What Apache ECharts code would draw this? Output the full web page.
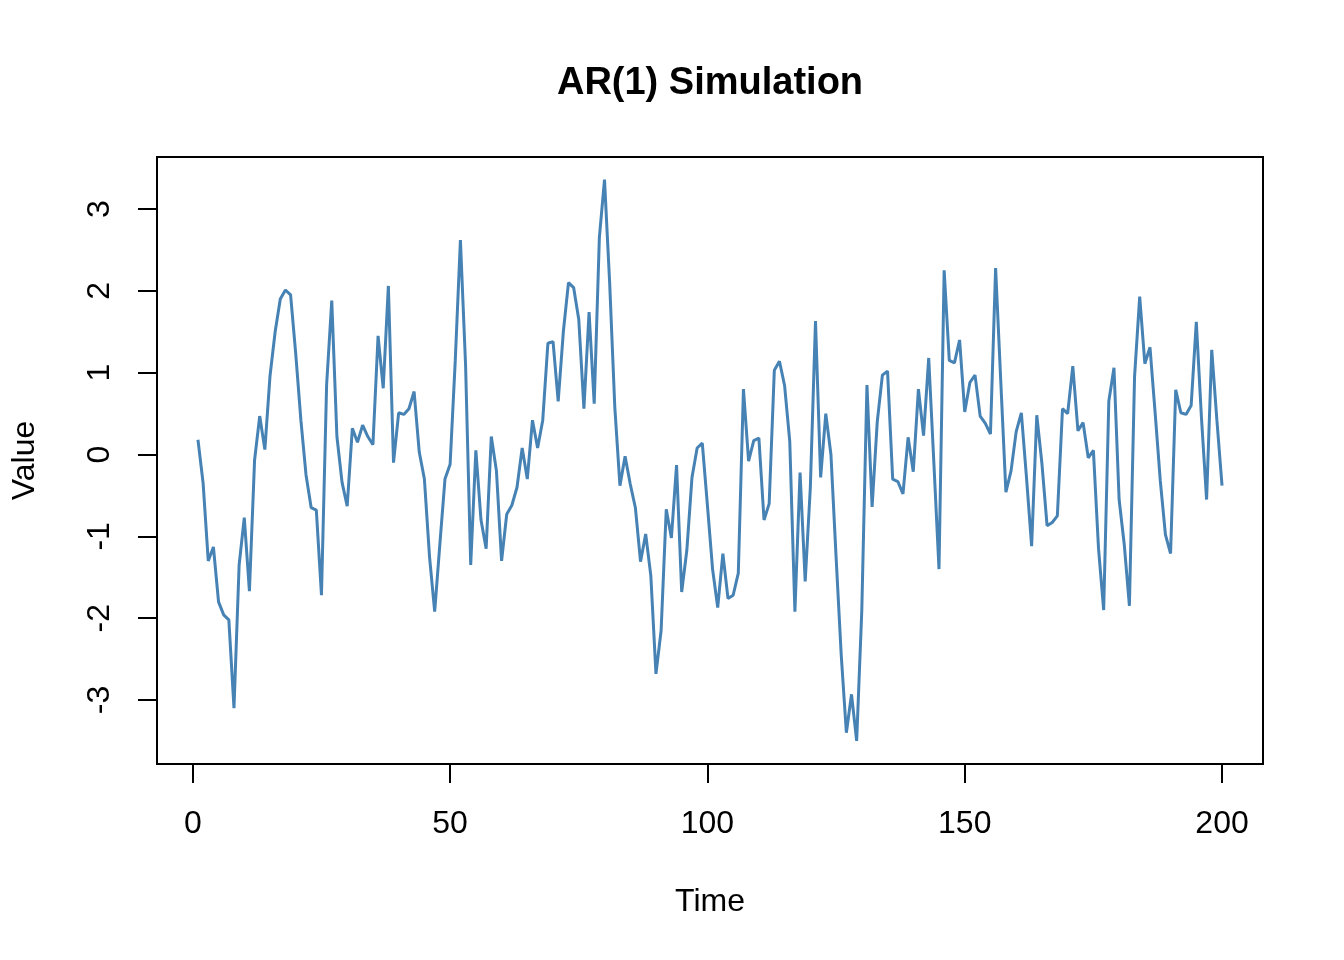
<!DOCTYPE html>
<html>
<head>
<meta charset="utf-8">
<script src="https://cdn.jsdelivr.net/npm/echarts@6/dist/echarts.min.js"></script>
<style>
  html, body { margin: 0; padding: 0; background: #ffffff; }
  #chart { width: 1344px; height: 960px; }
</style>
</head>
<body>
<div id="chart"></div>
<script>
// ---- data ----
const values = [
  0.18, -0.35, -1.30, -1.13, -1.80, -1.96, -2.02, -3.10, -1.35, -0.77,
  -1.67, -0.07, 0.47, 0.06, 0.96, 1.50, 1.90, 2.01, 1.95, 1.23,
  0.42, -0.25, -0.65, -0.68, -1.72, 0.85, 1.88, 0.22, -0.34, -0.63,
  0.32, 0.15, 0.36, 0.22, 0.12, 1.45, 0.81, 2.06, -0.10, 0.51,
  0.49, 0.56, 0.77, 0.03, -0.30, -1.25, -1.92, -1.10, -0.30, -0.12,
  1.15, 2.62, 1.10, -1.35, 0.05, -0.80, -1.15, 0.22, -0.20, -1.30,
  -0.73, -0.62, -0.40, 0.08, -0.30, 0.42, 0.08, 0.42, 1.36, 1.38,
  0.65, 1.50, 2.10, 2.04, 1.65, 0.56, 1.74, 0.62, 2.65, 3.36,
  2.10, 0.58, -0.38, -0.02, -0.36, -0.65, -1.31, -0.97, -1.48, -2.68,
  -2.15, -0.67, -1.02, -0.13, -1.68, -1.17, -0.28, 0.08, 0.14, -0.62,
  -1.40, -1.87, -1.21, -1.76, -1.72, -1.45, 0.80, -0.08, 0.17, 0.20,
  -0.80, -0.60, 1.03, 1.14, 0.84, 0.16, -1.92, -0.22, -1.55, -0.40,
  1.63, -0.28, 0.50, 0.00, -1.25, -2.45, -3.40, -2.93, -3.50, -1.90,
  0.85, -0.64, 0.40, 0.97, 1.02, -0.30, -0.33, -0.48, 0.21, -0.21,
  0.80, 0.23, 1.18, -0.10, -1.40, 2.25, 1.15, 1.12, 1.40, 0.52,
  0.88, 0.97, 0.47, 0.38, 0.25, 2.28, 0.90, -0.46, -0.20, 0.28,
  0.51, -0.28, -1.12, 0.48, -0.11, -0.87, -0.83, -0.75, 0.56, 0.50,
  1.08, 0.29, 0.39, -0.04, 0.05, -1.15, -1.90, 0.65, 1.06, -0.55,
  -1.10, -1.85, 0.95, 1.93, 1.11, 1.31, 0.51, -0.32, -0.98, -1.21,
  0.79, 0.51, 0.49, 0.60, 1.62, 0.45, -0.55, 1.28, 0.42, -0.38
];
const time = values.map((_, i) => i + 1);
const xTicks = [0, 50, 100, 150, 200];
const yTicks = [-3, -2, -1, 0, 1, 2, 3];

const FONT = 'Liberation Sans, Arial, sans-serif';
const chart = echarts.init(document.getElementById('chart'), null, { renderer: 'canvas' });

// R-style extended ranges (4% padding of data range)
const xMin = 1 - 0.04 * 199, xMax = 200 + 0.04 * 199;
const yDataMin = -3.507, yDataMax = 3.361;
const yr = yDataMax - yDataMin;
const yMin = yDataMin - 0.04 * yr, yMax = yDataMax + 0.04 * yr;

chart.setOption({
  animation: false,
  backgroundColor: '#ffffff',
  title: {
    text: 'AR(1) Simulation',
    left: 705,
    top: 60,
    textAlign: 'center',
    textStyle: { fontFamily: FONT, fontSize: 38, fontWeight: 'bold', color: '#000' }
  },
  grid: {
    left: 157, right: 81, top: 157, bottom: 196,
    show: true, borderColor: '#000', borderWidth: 2, backgroundColor: 'transparent'
  },
  xAxis: {
    type: 'value',
    min: xMin, max: xMax,
    name: 'Time',
    nameLocation: 'middle',
    nameGap: 122,
    nameTextStyle: { fontFamily: FONT, fontSize: 32, color: '#000' },
    axisLine: { show: false, onZero: false },
    splitLine: { show: false },
    axisTick: {
      show: true, inside: false, length: 19,
      customValues: xTicks,
      lineStyle: { color: '#000', width: 2 }
    },
    axisLabel: {
      show: true, margin: 44,
      customValues: xTicks,
      fontFamily: FONT, fontSize: 32, color: '#000'
    }
  },
  yAxis: {
    type: 'value',
    min: yMin, max: yMax,
    name: 'Value',
    nameLocation: 'middle',
    nameGap: 116,
    nameRotate: 90,
    nameTextStyle: { fontFamily: FONT, fontSize: 32, color: '#000' },
    axisLine: { show: false, onZero: false },
    splitLine: { show: false },
    axisTick: {
      show: true, inside: false, length: 19,
      customValues: yTicks,
      lineStyle: { color: '#000', width: 2 }
    },
    axisLabel: {
      show: true, margin: 41, rotate: 90,
      customValues: yTicks,
      fontFamily: FONT, fontSize: 32, color: '#000',
      formatter: v => String(v)
    }
  },
  series: [{
    type: 'line',
    data: time.map((t, i) => [t, values[i]]),
    showSymbol: false,
    symbol: 'none',
    lineStyle: { color: '#4682B4', width: 3 },
    itemStyle: { color: '#4682B4' }
  }]
});
</script>
</body>
</html>
